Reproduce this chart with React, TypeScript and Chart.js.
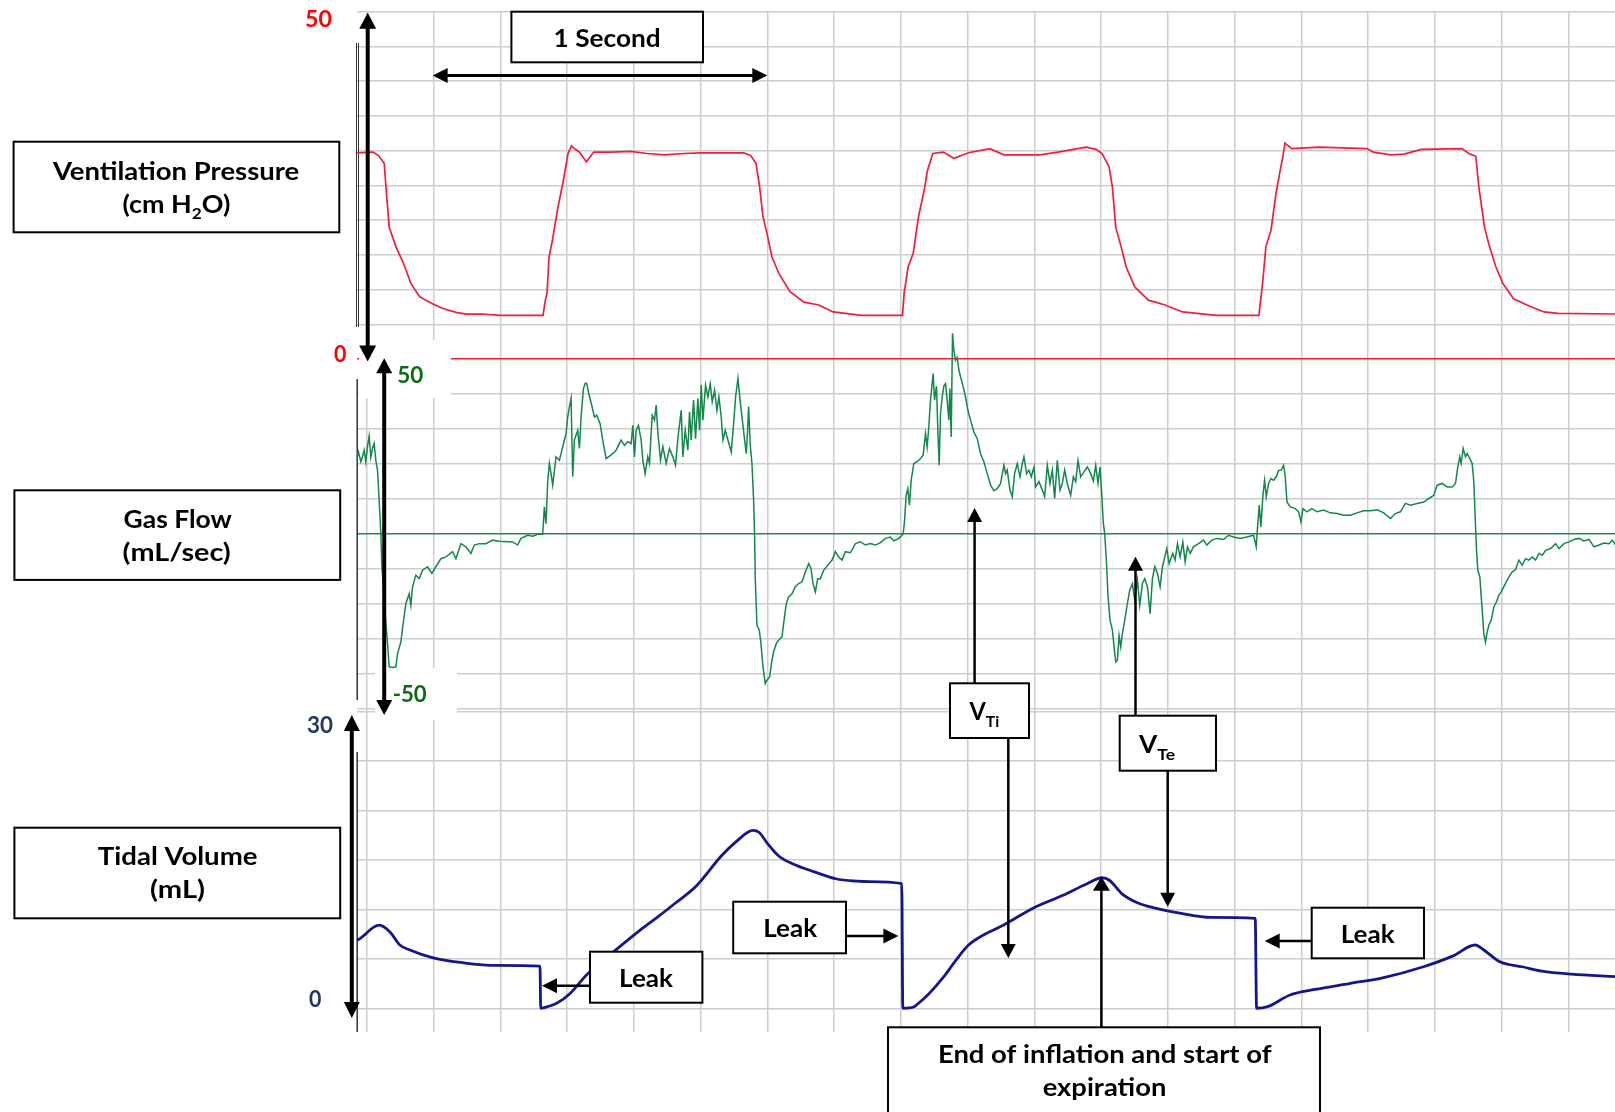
import { useEffect, useRef } from "react";
import { Chart, registerables } from "chart.js";

Chart.register(...registerables);

const FONT = "Lato, 'Open Sans', sans-serif";

// Gridline positions: 0.2 s per column, scale steps per panel
const TIME_GRID = [0, 0.2, 0.4, 0.6, 0.8, 1.0, 1.2, 1.4, 1.6, 1.8, 2.0, 2.2, 2.4, 2.6, 2.8, 3.0, 3.2, 3.4, 3.6];
const PRESSURE_GRID = [0, 5, 10, 15, 20, 25, 30, 35, 40, 45, 50];
const FLOW_GRID = [-50, -40, -30, -20, -10, 0, 10, 20, 30, 40, 50];
const VOLUME_GRID = [0, 5, 10, 15, 20, 25, 30];

// Ventilation pressure, [time s, cm H2O]
const PRESSURE: [number, number][] = [
  [-0.029, 29.7], [0.019, 29.8], [0.035, 29.3], [0.052, 28.2], [0.059, 23.8], [0.067, 19.0],
  [0.087, 16.2], [0.11, 13.8], [0.132, 10.9], [0.158, 9.0], [0.195, 8.0], [0.228, 7.3],
  [0.27, 6.7], [0.3, 6.5], [0.345, 6.5], [0.4, 6.3], [0.453, 6.3], [0.528, 6.3],
  [0.535, 8.5], [0.54, 9.5], [0.546, 14.7], [0.556, 17.1], [0.573, 21.9], [0.588, 25.5],
  [0.603, 29.6], [0.613, 30.7], [0.625, 30.2], [0.637, 29.8], [0.658, 28.4], [0.68, 29.8],
  [0.733, 29.8], [0.79, 29.9], [0.84, 29.6], [0.893, 29.4], [0.95, 29.6], [1.0, 29.7],
  [1.129, 29.7], [1.15, 29.3], [1.166, 28.2], [1.177, 24.8], [1.187, 20.5], [1.199, 18.1],
  [1.214, 14.7], [1.235, 12.3], [1.268, 9.7], [1.31, 8.2], [1.354, 7.8], [1.397, 6.8],
  [1.482, 6.3], [1.589, 6.3], [1.605, 6.3], [1.61, 9.5], [1.622, 13.3], [1.637, 15.2],
  [1.653, 20.5], [1.67, 24.3], [1.68, 27.2], [1.696, 29.6], [1.728, 29.8], [1.745, 29.3],
  [1.759, 28.9], [1.803, 29.7], [1.867, 30.3], [1.909, 29.4], [2.017, 29.4], [2.071, 29.8],
  [2.155, 30.5], [2.185, 30.2], [2.203, 29.6], [2.224, 27.7], [2.234, 24.8], [2.244, 19.0],
  [2.26, 16.2], [2.275, 13.3], [2.301, 10.4], [2.342, 8.5], [2.392, 7.8], [2.444, 6.8],
  [2.546, 6.3], [2.673, 6.3], [2.684, 10.9], [2.694, 16.2], [2.709, 18.5], [2.724, 23.8],
  [2.735, 26.7], [2.745, 29.2], [2.751, 31.1], [2.771, 30.3], [2.853, 30.5], [2.996, 30.3],
  [3.016, 29.8], [3.068, 29.4], [3.108, 29.5], [3.159, 30.2], [3.281, 30.3], [3.302, 29.6],
  [3.323, 29.2], [3.332, 24.8], [3.349, 19.0], [3.364, 16.2], [3.383, 13.3], [3.404, 10.9],
  [3.436, 8.7], [3.476, 7.8], [3.527, 6.8], [3.569, 6.6], [3.74, 6.5],
];

// Gas flow, [time s, mL/sec]
const FLOW: [number, number][] = [
  [-0.029, 22.0], [-0.025, 23.5], [-0.018, 20.7], [-0.013, 22.1], [-0.008, 24.0], [-0.003, 20.7],
  [0.002, 25.0], [0.007, 28.0], [0.012, 22.0], [0.017, 24.5], [0.022, 25.9], [0.027, 21.1],
  [0.032, 18.3], [0.037, 9.7], [0.042, 0.2], [0.045, -8.9], [0.049, -14.1], [0.055, -22.7],
  [0.062, -31.2], [0.067, -37.9], [0.077, -38.1], [0.087, -37.9], [0.092, -34.1], [0.102, -30.8],
  [0.109, -25.5], [0.117, -19.8], [0.127, -17.0], [0.132, -20.3], [0.137, -15.0], [0.147, -11.7],
  [0.157, -12.7], [0.167, -10.3], [0.182, -9.3], [0.195, -11.2], [0.207, -9.3], [0.222, -7.0],
  [0.237, -6.5], [0.257, -5.0], [0.267, -7.0], [0.282, -2.7], [0.297, -3.6], [0.312, -5.5],
  [0.322, -3.1], [0.337, -2.7], [0.357, -2.7], [0.377, -1.7], [0.397, -2.0], [0.437, -2.2],
  [0.452, -3.1], [0.462, -1.2], [0.482, -0.3], [0.497, -0.6], [0.512, 0], [0.527, 0],
  [0.532, 7.8], [0.537, 3.0], [0.542, 15.0], [0.547, 20.2], [0.552, 17.3], [0.557, 14.0],
  [0.567, 22.1], [0.577, 21.1], [0.587, 25.0], [0.597, 28.8], [0.602, 33.5], [0.607, 36.4],
  [0.612, 38.8], [0.617, 16.4], [0.622, 26.9], [0.632, 29.7], [0.637, 24.5], [0.642, 33.5],
  [0.649, 41.6], [0.655, 43.2], [0.659, 43.0], [0.665, 40.2], [0.675, 36.4], [0.682, 33.5],
  [0.689, 34.0], [0.699, 31.6], [0.707, 26.9], [0.717, 21.6], [0.727, 22.3], [0.737, 23.0],
  [0.747, 24.0], [0.762, 26.9], [0.772, 25.4], [0.782, 26.4], [0.792, 25.9], [0.797, 31.1],
  [0.802, 22.1], [0.807, 29.7], [0.814, 31.1], [0.822, 26.9], [0.827, 21.1], [0.834, 17.3],
  [0.842, 22.1], [0.847, 20.2], [0.855, 34.0], [0.862, 32.6], [0.867, 36.9], [0.872, 29.2],
  [0.88, 21.1], [0.887, 25.0], [0.897, 20.2], [0.907, 24.5], [0.917, 22.1], [0.925, 19.7],
  [0.932, 27.3], [0.942, 35.4], [0.947, 22.1], [0.954, 29.7], [0.962, 24.0], [0.967, 35.0],
  [0.972, 26.9], [0.979, 38.3], [0.985, 27.3], [0.992, 38.8], [0.997, 29.7], [1.002, 42.6],
  [1.007, 32.6], [1.015, 42.6], [1.022, 39.2], [1.029, 43.0], [1.035, 37.8], [1.042, 41.1],
  [1.049, 35.4], [1.055, 39.2], [1.062, 33.5], [1.067, 26.9], [1.074, 29.7], [1.082, 26.9],
  [1.092, 23.5], [1.099, 31.6], [1.105, 39.2], [1.112, 44.5], [1.119, 37.8], [1.131, 27.8],
  [1.137, 23.0], [1.141, 29.7], [1.144, 36.4], [1.149, 25.4], [1.154, 20.2], [1.159, 9.7],
  [1.162, -0.8], [1.164, -12.7], [1.169, -26.0], [1.176, -27.4], [1.181, -31.2], [1.187, -37.9],
  [1.194, -42.7], [1.199, -41.7], [1.207, -40.8], [1.214, -36.0], [1.219, -33.6], [1.227, -31.2],
  [1.234, -30.3], [1.244, -29.3], [1.249, -25.5], [1.257, -19.8], [1.264, -17.9], [1.274, -17.0],
  [1.284, -15.0], [1.294, -14.1], [1.304, -13.6], [1.314, -10.8], [1.324, -8.4], [1.331, -9.8],
  [1.337, -14.1], [1.344, -16.5], [1.351, -12.7], [1.359, -12.7], [1.369, -10.3], [1.381, -8.9],
  [1.394, -7.4], [1.404, -5.0], [1.414, -6.5], [1.424, -7.4], [1.434, -5.0], [1.449, -5.3],
  [1.464, -2.7], [1.479, -2.2], [1.494, -3.1], [1.509, -2.7], [1.524, -3.1], [1.539, -2.4],
  [1.554, -1.2], [1.569, -0.8], [1.579, -1.9], [1.594, -1.2], [1.607, 0], [1.611, 3.5],
  [1.616, 11.1], [1.621, 13.0], [1.626, 8.3], [1.631, 15.4], [1.639, 20.2], [1.649, 20.7],
  [1.659, 21.6], [1.667, 22.6], [1.674, 28.8], [1.679, 25.0], [1.684, 30.7], [1.689, 38.3],
  [1.697, 45.9], [1.701, 38.3], [1.707, 42.3], [1.711, 29.7], [1.715, 19.7], [1.719, 34.5],
  [1.724, 39.2], [1.729, 42.3], [1.734, 43.0], [1.739, 38.3], [1.744, 32.6], [1.747, 41.6],
  [1.751, 27.8], [1.755, 57.4], [1.759, 52.6], [1.764, 49.7], [1.769, 50.5], [1.774, 46.9],
  [1.779, 45.0], [1.787, 42.1], [1.794, 39.2], [1.801, 35.4], [1.809, 32.6], [1.819, 29.2],
  [1.829, 27.3], [1.839, 23.0], [1.849, 20.7], [1.859, 17.3], [1.869, 14.0], [1.879, 12.4],
  [1.889, 13.0], [1.899, 14.5], [1.909, 19.7], [1.914, 17.3], [1.919, 18.3], [1.927, 12.6],
  [1.934, 10.7], [1.941, 17.3], [1.949, 20.2], [1.957, 16.4], [1.964, 20.2], [1.969, 22.1],
  [1.977, 17.3], [1.984, 18.3], [1.991, 16.4], [1.999, 19.2], [2.004, 13.5], [2.014, 15.0],
  [2.024, 12.6], [2.031, 10.7], [2.039, 19.7], [2.047, 14.5], [2.054, 18.3], [2.061, 10.2],
  [2.069, 21.1], [2.077, 12.6], [2.084, 14.5], [2.091, 18.3], [2.099, 14.5], [2.109, 11.1],
  [2.117, 16.4], [2.124, 15.0], [2.131, 21.1], [2.139, 16.4], [2.149, 17.8], [2.159, 19.2],
  [2.169, 17.3], [2.177, 15.2], [2.184, 19.7], [2.191, 14.5], [2.197, 19.2], [2.202, 11.6],
  [2.207, 3.0], [2.211, 0.2], [2.216, -7.4], [2.221, -17.9], [2.227, -24.6], [2.234, -27.4],
  [2.239, -32.2], [2.244, -36.5], [2.249, -36.0], [2.254, -28.9], [2.259, -32.2], [2.264, -28.4],
  [2.271, -24.6], [2.279, -19.8], [2.286, -16.0], [2.294, -14.1], [2.301, -18.9], [2.309, -13.1],
  [2.316, -20.3], [2.324, -14.1], [2.331, -12.7], [2.339, -15.0], [2.347, -22.7], [2.354, -12.7],
  [2.361, -9.3], [2.369, -11.2], [2.377, -15.0], [2.384, -9.3], [2.391, -6.5], [2.397, -4.1],
  [2.404, -8.4], [2.415, -5.5], [2.422, -7.4], [2.429, -2.7], [2.437, -6.5], [2.445, -2.2],
  [2.452, -7.9], [2.459, -3.6], [2.467, -5.5], [2.477, -3.6], [2.492, -2.7], [2.507, -1.7],
  [2.517, -3.1], [2.532, -1.7], [2.547, -1.2], [2.567, -1.5], [2.582, -0.3], [2.597, -0.8],
  [2.617, -1.2], [2.637, -0.8], [2.657, -0.3], [2.665, -3.6], [2.669, 2.1], [2.674, 8.3],
  [2.679, 2.1], [2.685, 11.1], [2.69, 15.4], [2.695, 10.7], [2.702, 14.5], [2.709, 15.9],
  [2.717, 15.4], [2.725, 16.4], [2.732, 18.2], [2.74, 18.3], [2.747, 19.7], [2.752, 16.4],
  [2.757, 9.2], [2.767, 7.8], [2.782, 7.3], [2.792, 6.4], [2.799, 3.5], [2.805, 7.3],
  [2.817, 6.4], [2.832, 7.3], [2.847, 6.4], [2.867, 6.9], [2.887, 6.1], [2.907, 5.9],
  [2.927, 5.4], [2.947, 5.4], [2.967, 6.1], [2.987, 6.7], [3.007, 6.7], [3.027, 7.0],
  [3.047, 6.1], [3.067, 4.5], [3.082, 5.9], [3.097, 6.4], [3.112, 8.8], [3.127, 8.3],
  [3.147, 8.8], [3.167, 9.2], [3.182, 10.2], [3.197, 11.1], [3.207, 14.0], [3.222, 14.5],
  [3.237, 13.5], [3.252, 13.5], [3.262, 14.5], [3.269, 19.2], [3.275, 22.1], [3.279, 20.2],
  [3.285, 24.5], [3.292, 22.1], [3.297, 23.0], [3.305, 21.6], [3.312, 20.2], [3.317, 15.0],
  [3.321, 5.0], [3.325, -4.6], [3.329, -10.3], [3.335, -12.2], [3.342, -21.7], [3.347, -28.4],
  [3.352, -30.8], [3.357, -28.0], [3.362, -26.0], [3.369, -24.6], [3.377, -20.8], [3.385, -19.3],
  [3.392, -17.4], [3.399, -16.5], [3.407, -15.0], [3.417, -13.1], [3.425, -11.7], [3.432, -10.8],
  [3.442, -10.1], [3.452, -7.4], [3.462, -8.9], [3.472, -7.0], [3.482, -7.4], [3.492, -6.5],
  [3.502, -7.4], [3.512, -5.5], [3.522, -6.0], [3.532, -4.6], [3.547, -4.1], [3.562, -2.7],
  [3.572, -4.1], [3.587, -2.7], [3.602, -2.2], [3.617, -1.5], [3.632, -1.2], [3.647, -1.9],
  [3.662, -1.5], [3.677, -3.6], [3.692, -3.1], [3.707, -2.5], [3.722, -2.7], [3.732, -1.7],
  [3.742, -3.1],
];

// Tidal volume, [time s, mL]
const VOLUME: [number, number][] = [
  [-0.029, 6.9], [-0.025, 6.95], [0.037, 8.4], [0.07, 7.7], [0.099, 6.4], [0.129, 5.9],
  [0.199, 5.1], [0.289, 4.6], [0.389, 4.33], [0.519, 4.26], [0.521, 0], [0.529, 0.05],
  [0.569, 0.5], [0.609, 1.5], [0.659, 3.4], [0.739, 5.7], [0.819, 7.9], [0.87, 9.2],
  [0.923, 10.6], [0.988, 12.4], [1.062, 15.4], [1.105, 16.8], [1.157, 18.0], [1.175, 17.8],
  [1.202, 16.6], [1.234, 15.4], [1.277, 14.6], [1.341, 13.8], [1.405, 13.1], [1.469, 12.85],
  [1.507, 12.8], [1.603, 12.6], [1.606, 0], [1.64, 0.16], [1.647, 0.33], [1.685, 1.5],
  [1.729, 3.2], [1.766, 4.9], [1.803, 6.4], [1.847, 7.4], [1.907, 8.4], [1.995, 10.1],
  [2.084, 11.4], [2.158, 12.6], [2.203, 13.2], [2.225, 12.95], [2.262, 11.6], [2.307, 10.7],
  [2.366, 10.1], [2.44, 9.6], [2.529, 9.2], [2.662, 9.1], [2.666, 0], [2.699, 0.16],
  [2.766, 1.34], [2.84, 1.9], [2.944, 2.5], [3.047, 3.1], [3.166, 4.2], [3.255, 5.3],
  [3.321, 6.4], [3.343, 6.0], [3.395, 4.7], [3.462, 4.2], [3.521, 3.76], [3.61, 3.45],
  [3.74, 3.2],
];

const PRESSURE_COLOR = "#f01e3c";
const PRESSURE_ZERO = "#ff1a2a";
const FLOW_COLOR = "#14874b";
const FLOW_ZERO = "#1e8c4e";
const VOLUME_COLOR = "#16168c";
const GRID_COLOR = "#cdcdcd";

type Part = { text: string; size: number; dy?: number };

// Draws a run of bold text fitted between left and right on a baseline
function fitText(ctx: CanvasRenderingContext2D, parts: Part[], left: number, right: number, baseline: number, color = "#000") {
  ctx.save();
  let total = 0;
  const widths = parts.map((p) => {
    ctx.font = `bold ${p.size}px ${FONT}`;
    const w = ctx.measureText(p.text).width;
    total += w;
    return w;
  });
  ctx.translate(left, baseline);
  ctx.scale((right - left) / total, 1);
  ctx.fillStyle = color;
  ctx.textBaseline = "alphabetic";
  ctx.textAlign = "left";
  let x = 0;
  parts.forEach((p, i) => {
    ctx.font = `bold ${p.size}px ${FONT}`;
    ctx.fillText(p.text, x, p.dy || 0);
    x += widths[i];
  });
  ctx.restore();
}

function head(ctx: CanvasRenderingContext2D, x: number, y: number, ang: number, len: number, w: number) {
  const c = Math.cos(ang), s = Math.sin(ang);
  ctx.beginPath();
  ctx.moveTo(x, y);
  ctx.lineTo(x - len * c + (w / 2) * s, y - len * s - (w / 2) * c);
  ctx.lineTo(x - len * c - (w / 2) * s, y - len * s + (w / 2) * c);
  ctx.closePath();
  ctx.fill();
}

function arrow(ctx: CanvasRenderingContext2D, x1: number, y1: number, x2: number, y2: number, lw: number, len: number, w: number, both = false) {
  const ang = Math.atan2(y2 - y1, x2 - x1);
  const c = Math.cos(ang), s = Math.sin(ang);
  ctx.save();
  ctx.strokeStyle = "#000";
  ctx.fillStyle = "#000";
  ctx.lineWidth = lw;
  ctx.lineCap = "butt";
  ctx.beginPath();
  const sx = both ? x1 + c * len * 0.7 : x1;
  const sy = both ? y1 + s * len * 0.7 : y1;
  ctx.moveTo(sx, sy);
  ctx.lineTo(x2 - c * len * 0.7, y2 - s * len * 0.7);
  ctx.stroke();
  head(ctx, x2, y2, ang, len, w);
  if (both) head(ctx, x1, y1, ang + Math.PI, len, w);
  ctx.restore();
}

function box(ctx: CanvasRenderingContext2D, x1: number, y1: number, x2: number, y2: number) {
  ctx.save();
  ctx.fillStyle = "#fff";
  ctx.fillRect(x1, y1, x2 - x1, y2 - y1);
  ctx.strokeStyle = "#000";
  ctx.lineWidth = 2;
  ctx.strokeRect(x1, y1, x2 - x1, y2 - y1);
  ctx.restore();
}

const overlay = {
  id: "overlay",
  beforeDatasetsDraw(chart: any) {
    const ctx: CanvasRenderingContext2D = chart.ctx;
    ctx.save();
    // clear space behind the flow scale labels
    ctx.fillStyle = "#fff";
    ctx.fillRect(359, 340, 92, 58);
    ctx.fillRect(375, 668, 82, 52);
    // thin vertical rules along the left edge of each panel
    ctx.strokeStyle = "#333";
    ctx.lineWidth = 1;
    ctx.beginPath();
    ctx.moveTo(356.5, 43); ctx.lineTo(356.5, 327);
    ctx.moveTo(358.5, 43); ctx.lineTo(358.5, 327);
    ctx.stroke();
    ctx.lineWidth = 1.5;
    ctx.beginPath();
    ctx.moveTo(357.2, 379); ctx.lineTo(357.2, 700);
    ctx.moveTo(357.2, 752); ctx.lineTo(357.2, 1032);
    ctx.stroke();
    ctx.restore();
  },
  afterDraw(chart: any) {
    const ctx: CanvasRenderingContext2D = chart.ctx;
    ctx.save();

    // panel titles
    box(ctx, 13.6, 141.7, 339.3, 232.3);
    fitText(ctx, [{ text: "Ventilation Pressure", size: 25 }], 52.9, 299.3, 180);
    fitText(ctx, [{ text: "(cm H", size: 25 }, { text: "2", size: 16, dy: 6 }, { text: "O)", size: 25 }], 122.5, 230.4, 213);

    box(ctx, 14.4, 490.3, 340.2, 579.9);
    fitText(ctx, [{ text: "Gas Flow", size: 25 }], 123.6, 231.7, 528);
    fitText(ctx, [{ text: "(mL/sec)", size: 25 }], 122.6, 230.7, 561);

    box(ctx, 14.4, 827.7, 340.2, 918.3);
    fitText(ctx, [{ text: "Tidal Volume", size: 25 }], 97.8, 257.5, 865);
    fitText(ctx, [{ text: "(mL)", size: 25 }], 150, 205, 898);

    // scale end labels
    fitText(ctx, [{ text: "50", size: 22 }], 305, 332, 26.7, "#ff0000");
    fitText(ctx, [{ text: "0", size: 22 }], 334, 346.4, 361.5, "#ff0000");
    fitText(ctx, [{ text: "50", size: 22 }], 397.3, 423.3, 383.3, "#0b6b12");
    fitText(ctx, [{ text: "-50", size: 22 }], 392.7, 426.7, 701.7, "#0b6b12");
    fitText(ctx, [{ text: "30", size: 22 }], 307, 333, 733.3, "#1f3864");
    fitText(ctx, [{ text: "0", size: 22 }], 309, 321.4, 1006.7, "#1f3864");

    // scale arrows
    arrow(ctx, 367.7, 12.7, 367.7, 361.5, 4, 16, 17, true);
    arrow(ctx, 384.2, 358.3, 384.2, 715, 4, 15, 16, true);
    arrow(ctx, 351.8, 715, 351.8, 1018, 4, 16, 16, true);

    // time marker
    box(ctx, 511.4, 11.7, 703, 62.3);
    fitText(ctx, [{ text: "1 Second", size: 25 }], 553.6, 660.7, 46.7);
    arrow(ctx, 432.6, 75.5, 767.3, 75.5, 3, 15, 15, true);

    // leaks
    box(ctx, 590, 951.7, 702.4, 1002.7);
    fitText(ctx, [{ text: "Leak", size: 25 }], 619, 673, 986.7);
    arrow(ctx, 590, 985.7, 542, 985.7, 2.5, 15, 15);

    box(ctx, 733.2, 901.7, 846, 953.3);
    fitText(ctx, [{ text: "Leak", size: 25 }], 763.2, 817.1, 937.3);
    arrow(ctx, 846, 936, 898.4, 936, 2.5, 15, 15);

    box(ctx, 1311.7, 907.7, 1424, 958.3);
    fitText(ctx, [{ text: "Leak", size: 25 }], 1340.7, 1394.6, 942.7);
    arrow(ctx, 1311.7, 941, 1264.7, 941, 2.5, 15, 15);

    // inspired / expired tidal volume
    box(ctx, 950, 683.3, 1029, 738);
    fitText(ctx, [{ text: "V", size: 24 }, { text: "Ti", size: 16, dy: 7 }], 969.5, 999.2, 720);
    arrow(ctx, 974.6, 683.3, 974.6, 508, 2.5, 14, 15);
    arrow(ctx, 1008.3, 738, 1008.3, 958, 2.5, 14, 15);

    box(ctx, 1119.7, 715.7, 1216, 770.7);
    fitText(ctx, [{ text: "V", size: 24 }, { text: "Te", size: 16, dy: 7 }], 1139, 1175, 753.3);
    arrow(ctx, 1135.5, 715.7, 1135.5, 556.7, 2.5, 14, 15);
    arrow(ctx, 1167.7, 770.7, 1167.7, 906.7, 2.5, 14, 15);

    // end of inflation
    box(ctx, 888, 1027.3, 1320, 1118);
    fitText(ctx, [{ text: "End of inflation and start of", size: 25 }], 937.9, 1271.5, 1063.3);
    fitText(ctx, [{ text: "expiration", size: 25 }], 1042.7, 1166.3, 1096);
    arrow(ctx, 1101.4, 1027.3, 1101.4, 876.7, 2.5, 14, 17);

    ctx.restore();
  },
};

function yAxis(min: number, max: number, weight: number, ticks: number[], lineColor: (v: number) => string) {
  return {
    type: "linear",
    position: "left",
    stack: "panels",
    stackWeight: weight,
    min,
    max,
    ticks: { display: false },
    grid: {
      drawTicks: false,
      lineWidth: 1.5,
      color: (c: any) => lineColor(c.tick ? c.tick.value : NaN),
    },
    border: { display: false },
    afterBuildTicks: (s: any) => {
      s.ticks = ticks.map((v) => ({ value: v }));
    },
  };
}

export default function App() {
  const ref = useRef<HTMLCanvasElement | null>(null);

  useEffect(() => {
    const canvas = ref.current;
    if (!canvas) return;
    const toPoints = (arr: [number, number][]) => arr.map(([x, y]) => ({ x, y }));
    const chart = new Chart(canvas, {
      type: "line",
      data: {
        datasets: [
          {
            label: "Ventilation Pressure",
            data: toPoints(PRESSURE),
            xAxisID: "x",
            yAxisID: "yP",
            borderColor: PRESSURE_COLOR,
            borderWidth: 1.7,
            pointRadius: 0,
            tension: 0,
            fill: false,
            clip: false,
          },
          {
            label: "Gas Flow",
            data: toPoints(FLOW),
            xAxisID: "x",
            yAxisID: "yF",
            borderColor: FLOW_COLOR,
            borderWidth: 1.5,
            pointRadius: 0,
            tension: 0,
            fill: false,
            clip: false,
          },
          {
            label: "Tidal Volume",
            data: toPoints(VOLUME),
            xAxisID: "x",
            yAxisID: "yV",
            borderColor: VOLUME_COLOR,
            borderWidth: 2.8,
            pointRadius: 0,
            cubicInterpolationMode: "monotone",
            fill: false,
            clip: false,
          },
        ],
      },
      options: {
        animation: false,
        responsive: false,
        maintainAspectRatio: false,
        devicePixelRatio: 1,
        events: [],
        layout: { padding: { left: 357, right: 0, top: 11.7, bottom: 80 } },
        plugins: {
          legend: { display: false },
          tooltip: { enabled: false },
          title: { display: false },
        },
        scales: {
          x: {
            type: "linear",
            position: "bottom",
            min: -0.0294,
            max: 3.74,
            ticks: { display: false },
            grid: { drawTicks: false, lineWidth: 1.5, color: GRID_COLOR },
            border: { display: false },
            afterBuildTicks: (s: any) => {
              s.ticks = TIME_GRID.map((v) => ({ value: v }));
            },
          },
          yV: yAxis(-2.4, 30.25, 322.8, VOLUME_GRID, () => GRID_COLOR),
          yF: yAxis(-50, 50, 350, FLOW_GRID, (v) => (v === 0 ? FLOW_ZERO : v === 50 ? "rgba(0,0,0,0)" : GRID_COLOR)),
          yP: yAxis(0, 50, 347.5, PRESSURE_GRID, (v) => (v === 0 ? PRESSURE_ZERO : GRID_COLOR)),
        } as any,
      },
      plugins: [overlay],
    } as any);
    if (document.fonts && document.fonts.ready) {
      document.fonts.ready.then(() => chart.draw());
    }
    return () => chart.destroy();
  }, []);

  return (
    <canvas
      ref={ref}
      width={1615}
      height={1112}
      style={{ position: "fixed", left: 0, top: 0, width: 1615, height: 1112, background: "#fff" }}
    />
  );
}
